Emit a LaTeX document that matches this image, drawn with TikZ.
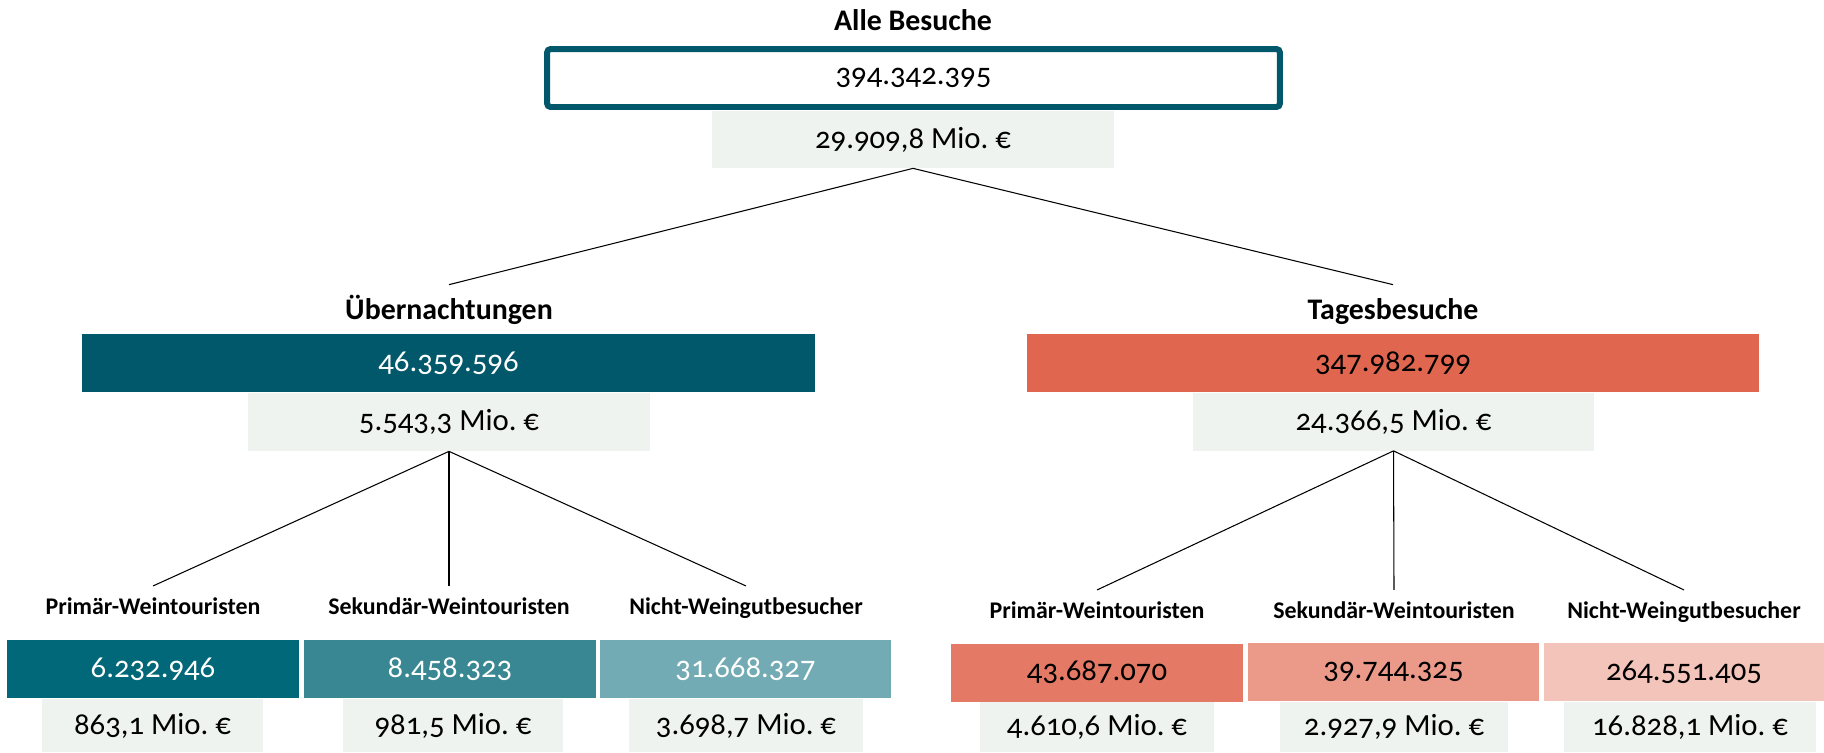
\documentclass[tikz,border=0pt]{standalone}
\usepackage{fontspec}
\setmainfont{Carlito}[Numbers=OldStyle]
\usetikzlibrary{positioning}
\definecolor{tealdark}{HTML}{00586A}
\definecolor{tealone}{HTML}{006878}
\definecolor{tealtwo}{HTML}{3A8794}
\definecolor{tealthree}{HTML}{73ABB4}
\definecolor{redmid}{HTML}{E0664F}
\definecolor{redone}{HTML}{E47A66}
\definecolor{redtwo}{HTML}{EB9A89}
\definecolor{redthree}{HTML}{F3C4BA}
\definecolor{moneybg}{HTML}{EFF3F0}
\tikzset{
    boxtop/.style = {rectangle, line width=3.4pt, draw=tealdark, rounded corners=2pt, inner sep=0, minimum width=14.66cm, minimum height=1.16cm, font=\fontsize{17.5}{21}\selectfont, text=black},
    boxmid/.style = {rectangle, inner sep=0, minimum width=14.66cm, minimum height=1.16cm, font=\fontsize{17.5}{21}\selectfont},
    boxsub/.style = {rectangle, inner sep=0, minimum width=5.84cm, minimum height=1.16cm, font=\fontsize{17.5}{21}\selectfont},
    boxmoney/.style = {rectangle, inner sep=0, fill=moneybg, minimum height=1.16cm, font=\fontsize{17.5}{21}\selectfont, text=black},
    ttl/.style = {inner sep=0, outer ysep=13.6pt, text height=0.65em, text depth=0.2em, font=\fontsize{17}{20}\selectfont\bfseries},
    sttl/.style = {inner sep=0, outer ysep=10pt, text height=0.65em, text depth=0.2em, font=\fontsize{13.6}{16}\selectfont\bfseries},
    edgen/.style = {-, line width=0.6pt, black}
}

\begin{document}
\begin{tikzpicture}[x=0.02cm, y=-0.02cm]
  \useasboundingbox (0,0) rectangle (1824,752);
  % top
  \node[ttl] (allt) at (913,27) {Alle Besuche};
  \node[boxtop] (all) at (913.5,78) {394.342.395};
  \node[boxmoney, minimum width=8.04cm, minimum height=1.14cm] (allm) at (913,139.5) {29.909,8 Mio.~€};

  % Übernachtungen
  \node[ttl] (uebt) at (449,316) {Übernachtungen};
  \node[boxmid, fill=tealdark, text=white] (ueb) at (448.5,363) {46.359.596};
  \node[boxmoney, minimum width=8.04cm] (uebm) at (449,422) {5.543,3 Mio.~€};

  % Tagesbesuche
  \node[ttl] (tagt) at (1393,316) {Tagesbesuche};
  \node[boxmid, fill=redmid, text=black] (tag) at (1393,363) {347.982.799};
  \node[boxmoney, minimum width=8.04cm] (tagm) at (1393.5,421.5) {24.366,5 Mio.~€};

  % Übernachtungen, Gruppen
  \node[sttl] (uptt) at (153,611) {Primär-Weintouristen};
  \node[sttl] (ustt) at (449,611) {Sekundär-Weintouristen};
  \node[sttl] (untt) at (746,611) {Nicht-Weingutbesucher};
  \node[boxsub, fill=tealone, text=white] (up) at (153,669) {6.232.946};
  \node[boxsub, fill=tealtwo, text=white] (us) at (450,669) {8.458.323};
  \node[boxsub, fill=tealthree, text=white] (un) at (745.5,669) {31.668.327};
  \node[boxmoney, minimum width=4.42cm, minimum height=1.06cm] (upm) at (152.5,725.5) {863,1 Mio.~€};
  \node[boxmoney, minimum width=4.42cm, minimum height=1.06cm] (usm) at (453,725.5) {981,5 Mio.~€};
  \node[boxmoney, minimum width=4.68cm, minimum height=1.06cm] (unm) at (746,725.5) {3.698,7 Mio.~€};

  % Tagesbesuche, Gruppen
  \node[sttl] (tptt) at (1097,615) {Primär-Weintouristen};
  \node[sttl] (tstt) at (1394,615) {Sekundär-Weintouristen};
  \node[sttl] (tntt) at (1684,615) {Nicht-Weingutbesucher};
  \node[boxsub, fill=redone, text=black] (tp) at (1097,672.5) {43.687.070};
  \node[boxsub, fill=redtwo, text=black] (ts) at (1393.5,672) {39.744.325};
  \node[boxsub, fill=redthree, text=black, minimum width=5.6cm] (tn) at (1684,672) {264.551.405};
  \node[boxmoney, minimum width=4.68cm, minimum height=1.0cm] (tpm) at (1097,727) {4.610,6 Mio.~€};
  \node[boxmoney, minimum width=4.56cm, minimum height=1.0cm] (tsm) at (1394,727) {2.927,9 Mio.~€};
  \node[boxmoney, minimum width=5.04cm, minimum height=1.0cm] (tnm) at (1690,727) {16.828,1 Mio.~€};

  % connectors
  \draw[edgen] (allm.south) -- (uebt.north);
  \draw[edgen] (allm.south) -- (tagt.north);
  \draw[edgen] (uebm.south) -- (uptt.north);
  \draw[edgen] (uebm.south) -- (ustt.north);
  \draw[edgen] (uebm.south) -- (untt.north);
  \draw[edgen] (tagm.south) -- (tptt.north);
  \draw[edgen] (tagm.south) -- (tstt.north);
  \draw[edgen] (tagm.south) -- (tntt.north);
\end{tikzpicture}
\end{document}
